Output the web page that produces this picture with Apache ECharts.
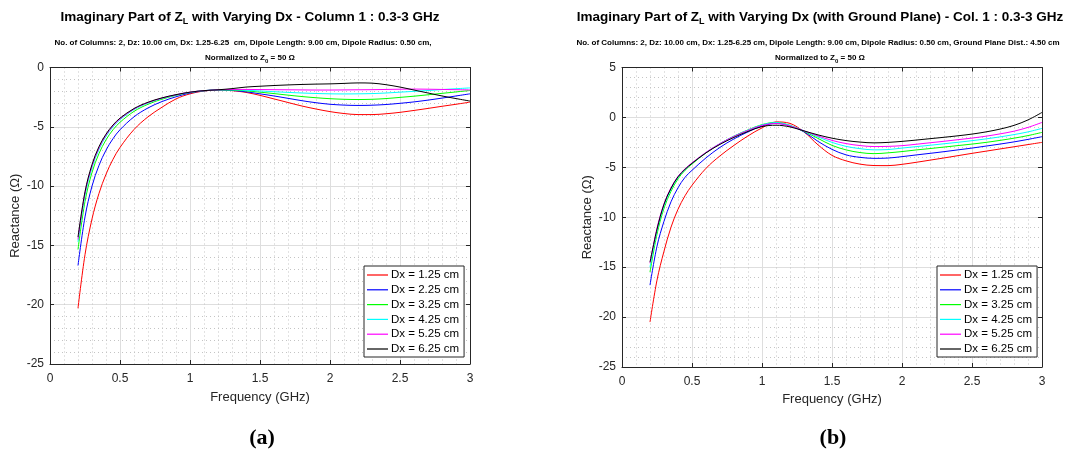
<!DOCTYPE html>
<html>
<head>
<meta charset="utf-8">
<script src="https://cdn.jsdelivr.net/npm/echarts@6/dist/echarts.min.js"></script>
<style>html,body{margin:0;padding:0;background:#fff;}#c{width:1091px;height:452px;}</style>
</head>
<body>
<div id="c"></div>
<script>
// ---- data ----
var freq = [0.2,0.25,0.3,0.35,0.4,0.45,0.5,0.6,0.7,0.8,0.9,1.0,1.1,1.2,1.3,1.4,1.5,1.6,1.7,1.8,1.9,2.0,2.1,2.2,2.3,2.4,2.5,2.6,2.7,2.8,2.9,3.0];
var seriesNames = ['Dx = 1.25 cm','Dx = 2.25 cm','Dx = 3.25 cm','Dx = 4.25 cm','Dx = 5.25 cm','Dx = 6.25 cm'];
var xTicks = [0,0.5,1,1.5,2,2.5,3];

// (a) without ground plane
var a_dx125 = [-20.3,-15.78,-12.77,-10.61,-9.0,-7.74,-6.74,-5.23,-4.16,-3.35,-2.65,-2.22,-1.98,-1.9,-1.95,-2.1,-2.35,-2.65,-2.95,-3.25,-3.5,-3.72,-3.88,-3.97,-3.97,-3.9,-3.78,-3.62,-3.45,-3.27,-3.1,-2.92];
var a_dx225 = [-16.7,-12.6,-10.0,-8.25,-6.97,-6.0,-5.25,-4.16,-3.41,-2.87,-2.47,-2.15,-1.97,-1.9,-1.93,-2.05,-2.22,-2.4,-2.6,-2.8,-2.97,-3.1,-3.17,-3.2,-3.18,-3.12,-3.02,-2.9,-2.75,-2.58,-2.4,-2.22];
var a_dx325 = [-15.35,-11.3,-8.85,-7.25,-6.1,-5.25,-4.62,-3.7,-3.1,-2.67,-2.35,-2.1,-1.96,-1.89,-1.9,-1.97,-2.08,-2.2,-2.33,-2.45,-2.55,-2.63,-2.68,-2.7,-2.68,-2.62,-2.52,-2.42,-2.3,-2.18,-2.06,-1.94];
var a_dx425 = [-14.7,-10.8,-8.45,-6.9,-5.8,-5.0,-4.4,-3.55,-3.0,-2.6,-2.32,-2.09,-1.95,-1.88,-1.88,-1.92,-1.98,-2.04,-2.1,-2.15,-2.19,-2.22,-2.23,-2.22,-2.2,-2.15,-2.08,-2.01,-1.94,-1.86,-1.79,-1.72];
var a_dx525 = [-14.5,-10.6,-8.3,-6.78,-5.7,-4.92,-4.33,-3.5,-2.96,-2.58,-2.3,-2.08,-1.95,-1.88,-1.85,-1.85,-1.86,-1.87,-1.88,-1.89,-1.9,-1.9,-1.89,-1.88,-1.87,-1.85,-1.83,-1.82,-1.83,-1.85,-1.87,-1.89];
var a_dx625 = [-14.3,-10.48,-8.18,-6.67,-5.62,-4.85,-4.27,-3.46,-2.93,-2.56,-2.29,-2.08,-1.95,-1.88,-1.78,-1.65,-1.58,-1.52,-1.47,-1.43,-1.4,-1.38,-1.34,-1.3,-1.32,-1.45,-1.65,-1.9,-2.15,-2.4,-2.62,-2.83];

// (b) with ground plane
var b_dx125 = [-20.5,-16.3,-13.4,-11.0,-9.2,-7.85,-6.8,-5.1,-3.85,-2.8,-1.85,-1.05,-0.45,-0.6,-1.45,-2.75,-3.8,-4.35,-4.68,-4.82,-4.83,-4.7,-4.5,-4.28,-4.06,-3.83,-3.6,-3.38,-3.16,-2.94,-2.72,-2.5];
var b_dx225 = [-16.8,-12.9,-10.4,-8.45,-7.05,-6.0,-5.3,-4.05,-3.0,-2.15,-1.45,-0.85,-0.6,-0.85,-1.45,-2.4,-3.2,-3.75,-4.0,-4.1,-4.07,-3.93,-3.76,-3.6,-3.43,-3.25,-3.07,-2.87,-2.67,-2.45,-2.2,-1.93];
var b_dx325 = [-15.5,-11.7,-9.1,-7.4,-6.15,-5.3,-4.67,-3.55,-2.63,-1.87,-1.25,-0.72,-0.5,-0.8,-1.4,-2.1,-2.8,-3.25,-3.52,-3.63,-3.55,-3.42,-3.26,-3.12,-2.97,-2.82,-2.67,-2.5,-2.3,-2.08,-1.82,-1.5];
var b_dx425 = [-15.0,-11.35,-8.85,-7.2,-6.0,-5.22,-4.6,-3.52,-2.62,-1.88,-1.27,-0.75,-0.52,-0.8,-1.35,-1.95,-2.5,-2.9,-3.13,-3.25,-3.22,-3.07,-2.93,-2.79,-2.64,-2.49,-2.33,-2.15,-1.95,-1.72,-1.45,-1.1];
var b_dx525 = [-14.6,-11.1,-8.65,-7.05,-5.9,-5.15,-4.55,-3.5,-2.62,-1.9,-1.3,-0.8,-0.6,-0.85,-1.35,-1.85,-2.3,-2.62,-2.82,-2.92,-2.9,-2.83,-2.69,-2.54,-2.39,-2.23,-2.07,-1.88,-1.65,-1.38,-1.0,-0.5];
var b_dx625 = [-14.5,-11.2,-8.7,-7.1,-5.95,-5.2,-4.6,-3.55,-2.7,-2.0,-1.4,-0.92,-0.78,-0.95,-1.35,-1.75,-2.08,-2.32,-2.47,-2.55,-2.5,-2.4,-2.27,-2.13,-1.99,-1.84,-1.67,-1.45,-1.17,-0.8,-0.25,0.5];

var colors = ['#ff0000','#0000ff','#00ff00','#00ffff','#ff00ff','#000000'];
var seriesA = [a_dx125,a_dx225,a_dx325,a_dx425,a_dx525,a_dx625];
var seriesB = [b_dx125,b_dx225,b_dx325,b_dx425,b_dx525,b_dx625];

// ---- chart ----
var FONT = "'Liberation Sans', Arial, Helvetica, sans-serif";
var AX = '#262626';
var chart = echarts.init(document.getElementById('c'), null, {renderer:'canvas'});

function xAxisMain(g, gap){
  return {type:'value', gridIndex:g, min:0, max:3, interval:0.5, position:'bottom',
    name:'Frequency (GHz)', nameLocation:'middle', nameGap:gap,
    nameTextStyle:{fontFamily:FONT, fontSize:13, color:AX},
    axisLine:{show:true, onZero:false, lineStyle:{color:AX, width:1}},
    axisTick:{show:true, inside:true, length:4, lineStyle:{color:AX}},
    axisLabel:{show:true, margin:9, fontFamily:FONT, fontSize:12, color:AX,
      formatter:function(v){return String(v);}},
    splitLine:{show:true, lineStyle:{color:'#dedede', width:1}},
    minorTick:{show:false, splitNumber:5},
    minorSplitLine:{show:true, lineStyle:{color:'#c4c4c4', width:1, type:[1,3]}}
  };
}
function xAxisTop(g){
  return {type:'value', gridIndex:g, min:0, max:3, interval:0.5, position:'top',
    axisLine:{show:true, onZero:false, lineStyle:{color:AX, width:1}},
    axisTick:{show:true, inside:true, length:4, lineStyle:{color:AX}},
    axisLabel:{show:false}, splitLine:{show:false}};
}
function yAxisMain(g, min, max){
  return {type:'value', gridIndex:g, min:min, max:max, interval:5, position:'left',
    name:'Reactance (\u03A9)', nameLocation:'middle', nameGap:28,
    nameTextStyle:{fontFamily:FONT, fontSize:13, color:AX},
    axisLine:{show:true, onZero:false, lineStyle:{color:AX, width:1}},
    axisTick:{show:true, inside:true, length:4, lineStyle:{color:AX}},
    axisLabel:{show:true, margin:6, fontFamily:FONT, fontSize:12, color:AX},
    splitLine:{show:true, lineStyle:{color:'#dedede', width:1}},
    minorTick:{show:false, splitNumber:5},
    minorSplitLine:{show:true, lineStyle:{color:'#c4c4c4', width:1, type:[1,3]}}
  };
}
function yAxisRight(g, min, max){
  return {type:'value', gridIndex:g, min:min, max:max, interval:5, position:'right',
    axisLine:{show:true, onZero:false, lineStyle:{color:AX, width:1}},
    axisTick:{show:true, inside:true, length:4, lineStyle:{color:AX}},
    axisLabel:{show:false}, splitLine:{show:false}};
}

var series = [];
function addSeries(list, xi, yi){
  list.forEach(function(vals, k){
    series.push({type:'line', name:seriesNames[k], xAxisIndex:xi, yAxisIndex:yi,
      data: freq.map(function(f,i){return [f, vals[i]];}),
      smooth:0.35, symbol:'none', showSymbol:false, animation:false,
      lineStyle:{color:colors[k], width:1}, itemStyle:{color:colors[k]}, z:3});
  });
}
addSeries(seriesA, 0, 0);
addSeries(seriesB, 2, 2);

function legendAt(left){
  return {left:left, top:266, orient:'vertical', data:seriesNames,
    itemWidth:21, itemHeight:12, itemGap:2.8, padding:[3,5,2,3],
    borderColor:AX, borderWidth:1, borderRadius:0, backgroundColor:'#fff',
    selectedMode:false, icon:'path://M0,5 L21,5 L21,6.2 L0,6.2 Z',
    textStyle:{fontFamily:FONT, fontSize:11.5, color:'#000', padding:[0,0,0,-2]}};
}

var titleRich = {
  t:{fontFamily:FONT, fontWeight:'bold', fontSize:13.5, color:'#000'},
  s:{fontFamily:FONT, fontWeight:'bold', fontSize:9, color:'#000', padding:[10,0,0,0]},
  n:{fontFamily:FONT, fontWeight:'bold', fontSize:8, color:'#000'},
  ns:{fontFamily:FONT, fontWeight:'bold', fontSize:6, color:'#000', padding:[6,0,0,0]}
};
function gText(x, y, text, rich){
  var st = {text:text, x:x, y:y, textAlign:'center', align:'center',
    textVerticalAlign:'middle', verticalAlign:'middle', fill:'#000', rich:rich};
  return {type:'text', style:st, z:10};
}

var option = {
  animation:false,
  backgroundColor:'#fff',
  grid:[
    {left:50, top:67.5, width:420, height:296.5, show:false},
    {left:622, top:67.5, width:420, height:299.5, show:false}
  ],
  xAxis:[xAxisMain(0,27), xAxisTop(0), xAxisMain(1,24.5), xAxisTop(1)],
  yAxis:[yAxisMain(0,-25,0), yAxisRight(0,-25,0), yAxisMain(1,-25,5), yAxisRight(1,-25,5)],
  legend:[legendAt(364), legendAt(937)],
  series:series,
  graphic:[
    gText(250, 17, '{t|Imaginary Part of Z}{s|L}{t| with Varying Dx - Column 1 : 0.3-3 GHz}', titleRich),
    gText(243, 43, '{n|No. of Columns: 2, Dz: 10.00 cm, Dx: 1.25-6.25  cm, Dipole Length: 9.00 cm, Dipole Radius: 0.50 cm,}', titleRich),
    gText(250, 58, '{n|Normalized to Z}{ns|0}{n| = 50 \u03A9}', titleRich),
    gText(820, 17, '{t|Imaginary Part of Z}{s|L}{t| with Varying Dx (with Ground Plane) - Col. 1 : 0.3-3 GHz}', titleRich),
    gText(818, 43, '{n|No. of Columns: 2, Dz: 10.00 cm, Dx: 1.25-6.25 cm, Dipole Length: 9.00 cm, Dipole Radius: 0.50 cm, Ground Plane Dist.: 4.50 cm}', titleRich),
    gText(820, 58, '{n|Normalized to Z}{ns|0}{n| = 50 \u03A9}', titleRich),
    {type:'text', z:10, style:{text:'(a)', x:262, y:438, textAlign:'center', align:'center', textVerticalAlign:'middle', verticalAlign:'middle', font:"bold 22px 'Liberation Serif', 'Times New Roman', serif", fill:'#000'}},
    {type:'text', z:10, style:{text:'(b)', x:833, y:438, textAlign:'center', align:'center', textVerticalAlign:'middle', verticalAlign:'middle', font:"bold 22px 'Liberation Serif', 'Times New Roman', serif", fill:'#000'}}
  ]
};
chart.setOption(option);
</script>
</body>
</html>
